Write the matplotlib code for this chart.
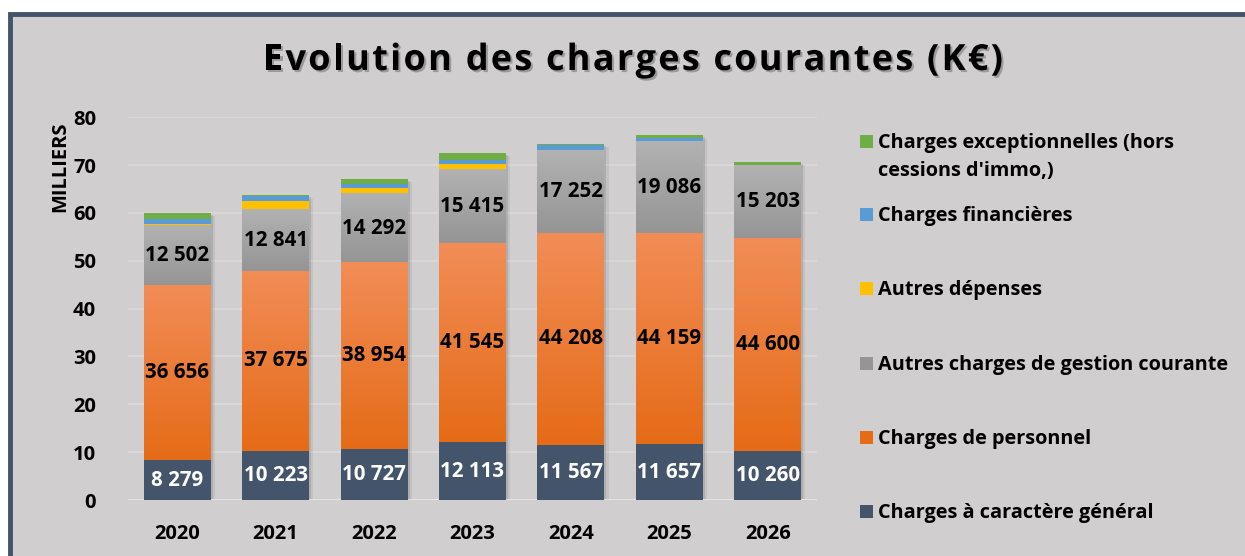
import numpy as np
import matplotlib
matplotlib.use('Agg')
import matplotlib.pyplot as plt
import matplotlib.patheffects as pe
from matplotlib.colors import LinearSegmentedColormap
from matplotlib.patches import Rectangle
from matplotlib.font_manager import FontProperties

plt.rcParams['font.family'] = ['Open Sans', 'DejaVu Sans']
plt.rcParams['font.weight'] = 'bold'

years = ['2020', '2021', '2022', '2023', '2024', '2025', '2026']
# values in K€ (axis shows thousands)
charges_generales = [8279, 10223, 10727, 12113, 11567, 11657, 10260]
charges_personnel = [36656, 37675, 38954, 41545, 44208, 44159, 44600]
autres_gestion = [12502, 12841, 14292, 15415, 17252, 19086, 15203]
autres_depenses = [350, 1700, 1300, 1100, 0, 0, 0]
charges_financieres = [1040, 1050, 840, 970, 1100, 840, 0]
charges_exceptionnelles = [1250, 250, 1050, 1460, 350, 500, 630]

series = [
    ('Charges à caractère général', charges_generales, ('#44546A', '#44546A'), 'white', True),
    ('Charges de personnel', charges_personnel, ('#E56B17', '#F28D57'), 'black', True),
    ('Autres charges de gestion courante', autres_gestion, ('#959595', '#B2B2B2'), 'black', True),
    ('Autres dépenses', autres_depenses, ('#FFC000', '#FFC000'), 'black', False),
    ('Charges financières', charges_financieres, ('#5B9BD5', '#5B9BD5'), 'black', False),
    ('Charges exceptionnelles (hors\ncessions d\'immo,)', charges_exceptionnelles, ('#70AD47', '#70AD47'), 'black', False),
]
title = 'Evolution des charges courantes (K€)'

W, H = 1245, 556
bg = '#D0CECE'
fig = plt.figure(figsize=(W / 100, H / 100), dpi=100)
fig.patch.set_facecolor('white')
# chart area with border on left/top
fig.add_artist(Rectangle((9.5 / W, -0.1), 1.2, (H - 13.5) / H + 0.1, transform=fig.transFigure,
                         facecolor=bg, edgecolor='#44546A', linewidth=3.5, zorder=0))

ax = fig.add_axes([128 / W, (H - 500) / H, (817 - 128) / W, (500 - 117.3) / H])
ax.set_facecolor('none')

x = np.arange(len(years))
width = 0.68
scale = 1000.0

totals = np.zeros(len(years))
for _, vals, _, _, _ in series:
    totals += np.array(vals) / scale
# soft bar shadows
for off, a in [((1.5, -1.5), 0.10), ((3, -2.5), 0.06)]:
    ax.bar(x, totals, width=width, color='k', zorder=1,
           path_effects=[pe.SimplePatchShadow(offset=off, shadow_rgbFace='black', alpha=a)])

bottom = np.zeros(len(years))
for name, vals, (c0, c1), tcol, show in series:
    v = np.array(vals) / scale
    bars = ax.bar(x, v, width=width, bottom=bottom, color=c0, zorder=2, linewidth=0)
    if c0 != c1:
        cmap = LinearSegmentedColormap.from_list(name, [c0, c1])
        grad = np.linspace(0, 1, 256).reshape(-1, 1)
        for b in bars:
            bx, by = b.get_x(), b.get_y()
            ax.imshow(grad, extent=[bx, bx + b.get_width(), by, by + b.get_height()],
                      origin='lower', aspect='auto', cmap=cmap, zorder=2.5, interpolation='bilinear')
    if show:
        for xi, vi, bi in zip(x, vals, bottom):
            ax.text(xi, bi + vi / scale / 2, f'{vi:,}'.replace(',', ' '), ha='center', va='center',
                    color=tcol, fontsize=14.8, fontweight='bold', zorder=4)
    bottom += v

ax.set_xlim(-0.5, len(years) - 0.5)
ax.set_ylim(0, 80)
ax.set_yticks(range(0, 81, 10))
ax.set_xticks(x)
ax.set_xticklabels(years)
ax.grid(axis='y', color='#DCDADA', linewidth=1.2, zorder=0)
ax.set_axisbelow(True)
ax.axhline(0, color='#E6E6E6', linewidth=2, zorder=1.5)
for s in ax.spines.values():
    s.set_visible(False)
ax.tick_params(axis='both', length=0, labelsize=14.5)
ax.tick_params(axis='y', pad=23)
ax.tick_params(axis='x', pad=17)
for lab in ax.get_xticklabels() + ax.get_yticklabels():
    lab.set_fontweight('bold')

fig.text(60 / W, 1 - 167 / H, 'MILLIERS', rotation=90, ha='center', va='center',
         fontsize=14.5, fontweight='bold')

# letter-spaced title
fp = FontProperties(family='Open Sans', weight='bold', size=26)
renderer = fig.canvas.get_renderer()
widths = [renderer.get_text_width_height_descent(ch, fp, ismath=False)[0] for ch in title]
spacing = (740 - sum(widths)) / (len(title) - 1)
cx = 263
for ch, w in zip(title, widths):
    fig.text(cx / W, 1 - 61 / H, ch, ha='left', va='center', fontproperties=fp,
             path_effects=[pe.SimplePatchShadow(offset=(1.5, -1.5), alpha=0.25), pe.Normal()])
    cx += w + spacing

# legend
leg_y = [141, 214, 288, 363, 437, 511]
for (name, vals, (c0, c1), _, _), ly in zip(reversed(series), leg_y):
    fig.add_artist(Rectangle((860 / W, 1 - (ly + 7) / H), 13 / W, 13 / H, transform=fig.transFigure,
                             facecolor=c1 if c0 == c1 else c0, edgecolor='none'))
    fig.text(878 / W, 1 - (ly - 8) / H, name, ha='left', va='top', fontsize=14.3,
             fontweight='bold', linespacing=1.5)

fig.savefig('out.png', dpi=100, facecolor=fig.get_facecolor())
